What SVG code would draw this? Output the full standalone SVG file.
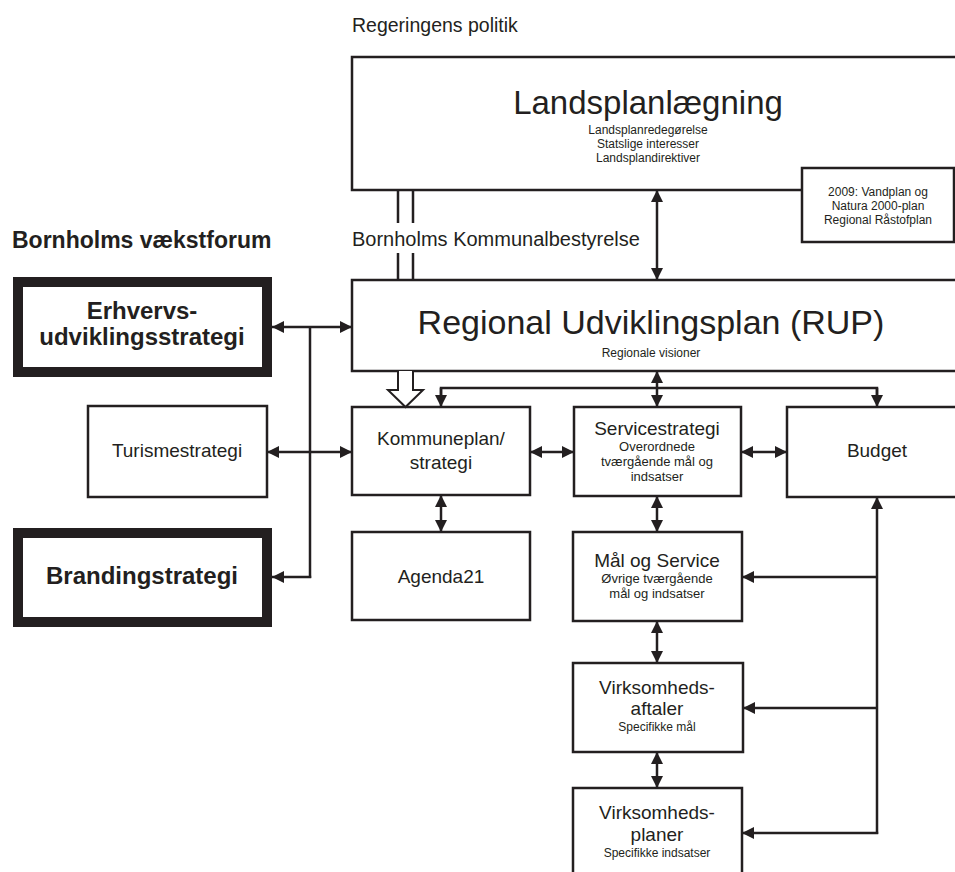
<svg xmlns="http://www.w3.org/2000/svg" width="955" height="872" viewBox="0 0 955 872">
<style>
  .box { fill: #fff; stroke: #231f20; stroke-width: 2.5; }
  .thick { fill: #fff; stroke: #231f20; stroke-width: 10; }
  .ln { fill: none; stroke: #231f20; stroke-width: 2.5; }
  text { font-family: "Liberation Sans", Arial, sans-serif; fill: #231f20; text-anchor: middle; }
  .t19 { font-size: 19px; }
  .t13 { font-size: 13px; }
  .t12 { font-size: 12px; }
  .bold { font-weight: bold; font-size: 24px; }
  .left { text-anchor: start; }
</style>
<defs>
  <marker id="ah" viewBox="0 0 12 12" refX="12" refY="6" markerWidth="12" markerHeight="12" markerUnits="userSpaceOnUse" orient="auto-start-reverse">
    <path d="M0,0 L12,6 L0,12 z" fill="#231f20"/>
  </marker>
</defs>

<text class="left" x="352" y="32" style="font-size:19.5px">Regeringens politik</text>
<text class="left" x="352" y="246" style="font-size:20px">Bornholms Kommunalbestyrelse</text>
<text class="left" x="12" y="248" style="font-size:23px;font-weight:bold">Bornholms vækstforum</text>

<g id="landsplan">
  <rect class="box" x="352" y="57" width="615" height="133"/>
  <text x="648" y="114" style="font-size:33px">Landsplanlægning</text>
  <text class="t12" x="648" y="134">Landsplanredegørelse</text>
  <text class="t12" x="648" y="148">Statslige interesser</text>
  <text class="t12" x="648" y="162">Landsplandirektiver</text>
</g>

<g id="vandplan">
  <rect class="box" x="802" y="168" width="152" height="74"/>
  <text class="t12" x="878" y="196">2009: Vandplan og</text>
  <text class="t12" x="878" y="210">Natura 2000-plan</text>
  <text class="t12" x="878" y="224">Regional Råstofplan</text>
</g>

<g id="rup">
  <rect class="box" x="352" y="280" width="615" height="91"/>
  <text x="651" y="334" style="font-size:34px">Regional Udviklingsplan (RUP)</text>
  <text class="t12" x="651" y="357">Regionale visioner</text>
</g>

<g id="erhvervs">
  <rect class="thick" x="18" y="282" width="249" height="90"/>
  <text class="bold" x="142" y="319">Erhvervs-</text>
  <text class="bold" x="142" y="345">udviklingsstrategi</text>
</g>

<g id="turisme">
  <rect class="box" x="88" y="406" width="179" height="91"/>
  <text class="t19" x="177" y="457">Turismestrategi</text>
</g>

<g id="branding">
  <rect class="thick" x="18" y="533" width="249" height="89"/>
  <text class="bold" x="142" y="584">Brandingstrategi</text>
</g>

<g id="kommuneplan">
  <rect class="box" x="352" y="407" width="178" height="88"/>
  <text class="t19" x="441" y="445">Kommuneplan/</text>
  <text class="t19" x="441" y="469">strategi</text>
</g>

<g id="servicestrategi">
  <rect class="box" x="574" y="407" width="167" height="89"/>
  <text class="t19" x="657" y="435">Servicestrategi</text>
  <text class="t13" x="657" y="451">Overordnede</text>
  <text class="t13" x="657" y="466">tværgående mål og</text>
  <text class="t13" x="657" y="481">indsatser</text>
</g>

<g id="budget">
  <rect class="box" x="787" y="407" width="180" height="90"/>
  <text class="t19" x="877" y="457">Budget</text>
</g>

<g id="agenda21">
  <rect class="box" x="352" y="532" width="178" height="88"/>
  <text class="t19" x="441" y="583">Agenda21</text>
</g>

<g id="maalogservice">
  <rect class="box" x="573" y="532" width="169" height="89"/>
  <text class="t19" x="657" y="567">Mål og Service</text>
  <text class="t13" x="657" y="583">Øvrige tværgående</text>
  <text class="t13" x="657" y="598">mål og indsatser</text>
</g>

<g id="aftaler">
  <rect class="box" x="573" y="663" width="170" height="89"/>
  <text class="t19" x="657" y="694">Virksomheds-</text>
  <text class="t19" x="657" y="715">aftaler</text>
  <text class="t12" x="657" y="731">Specifikke mål</text>
</g>

<g id="planer">
  <rect class="box" x="573" y="788" width="169" height="95"/>
  <text class="t19" x="657" y="819">Virksomheds-</text>
  <text class="t19" x="657" y="841">planer</text>
  <text class="t12" x="657" y="857">Specifikke indsatser</text>
</g>

<g id="connectors">
  <path class="ln" d="M398,190 V223 M413,190 V223 M398,253 V280 M413,253 V280" stroke-width="2"/>
  <path d="M398,371 V390 H388 L405.5,407 L423,390 H413 V371" fill="#fff" stroke="#231f20" stroke-width="2"/>
  <line class="ln" x1="657" y1="190" x2="657" y2="280" marker-start="url(#ah)" marker-end="url(#ah)"/>
  <line class="ln" x1="657" y1="371" x2="657" y2="407" marker-start="url(#ah)" marker-end="url(#ah)"/>
  <path class="ln" d="M441,400 V388 H877 V400"/>
  <line class="ln" x1="441" y1="388" x2="441" y2="407" marker-end="url(#ah)"/>
  <line class="ln" x1="877" y1="388" x2="877" y2="407" marker-end="url(#ah)"/>
  <line class="ln" x1="530" y1="452" x2="574" y2="452" marker-start="url(#ah)" marker-end="url(#ah)"/>
  <line class="ln" x1="741" y1="452" x2="787" y2="452" marker-start="url(#ah)" marker-end="url(#ah)"/>
  <line class="ln" x1="441" y1="495" x2="441" y2="532" marker-start="url(#ah)" marker-end="url(#ah)"/>
  <line class="ln" x1="657" y1="496" x2="657" y2="532" marker-start="url(#ah)" marker-end="url(#ah)"/>
  <line class="ln" x1="657" y1="621" x2="657" y2="663" marker-start="url(#ah)" marker-end="url(#ah)"/>
  <line class="ln" x1="657" y1="752" x2="657" y2="788" marker-start="url(#ah)" marker-end="url(#ah)"/>
  <line class="ln" x1="877" y1="834" x2="877" y2="497" marker-end="url(#ah)"/>
  <line class="ln" x1="877" y1="577" x2="742" y2="577" marker-end="url(#ah)"/>
  <line class="ln" x1="877" y1="708" x2="743" y2="708" marker-end="url(#ah)"/>
  <line class="ln" x1="878.2" y1="833" x2="742" y2="833" marker-end="url(#ah)"/>
  <line class="ln" x1="310" y1="327" x2="310" y2="578"/>
  <line class="ln" x1="272" y1="327" x2="352" y2="327" marker-start="url(#ah)" marker-end="url(#ah)"/>
  <line class="ln" x1="267" y1="452" x2="352" y2="452" marker-start="url(#ah)" marker-end="url(#ah)"/>
  <line class="ln" x1="311.2" y1="577" x2="272" y2="577" marker-end="url(#ah)"/>
</g>
</svg>
